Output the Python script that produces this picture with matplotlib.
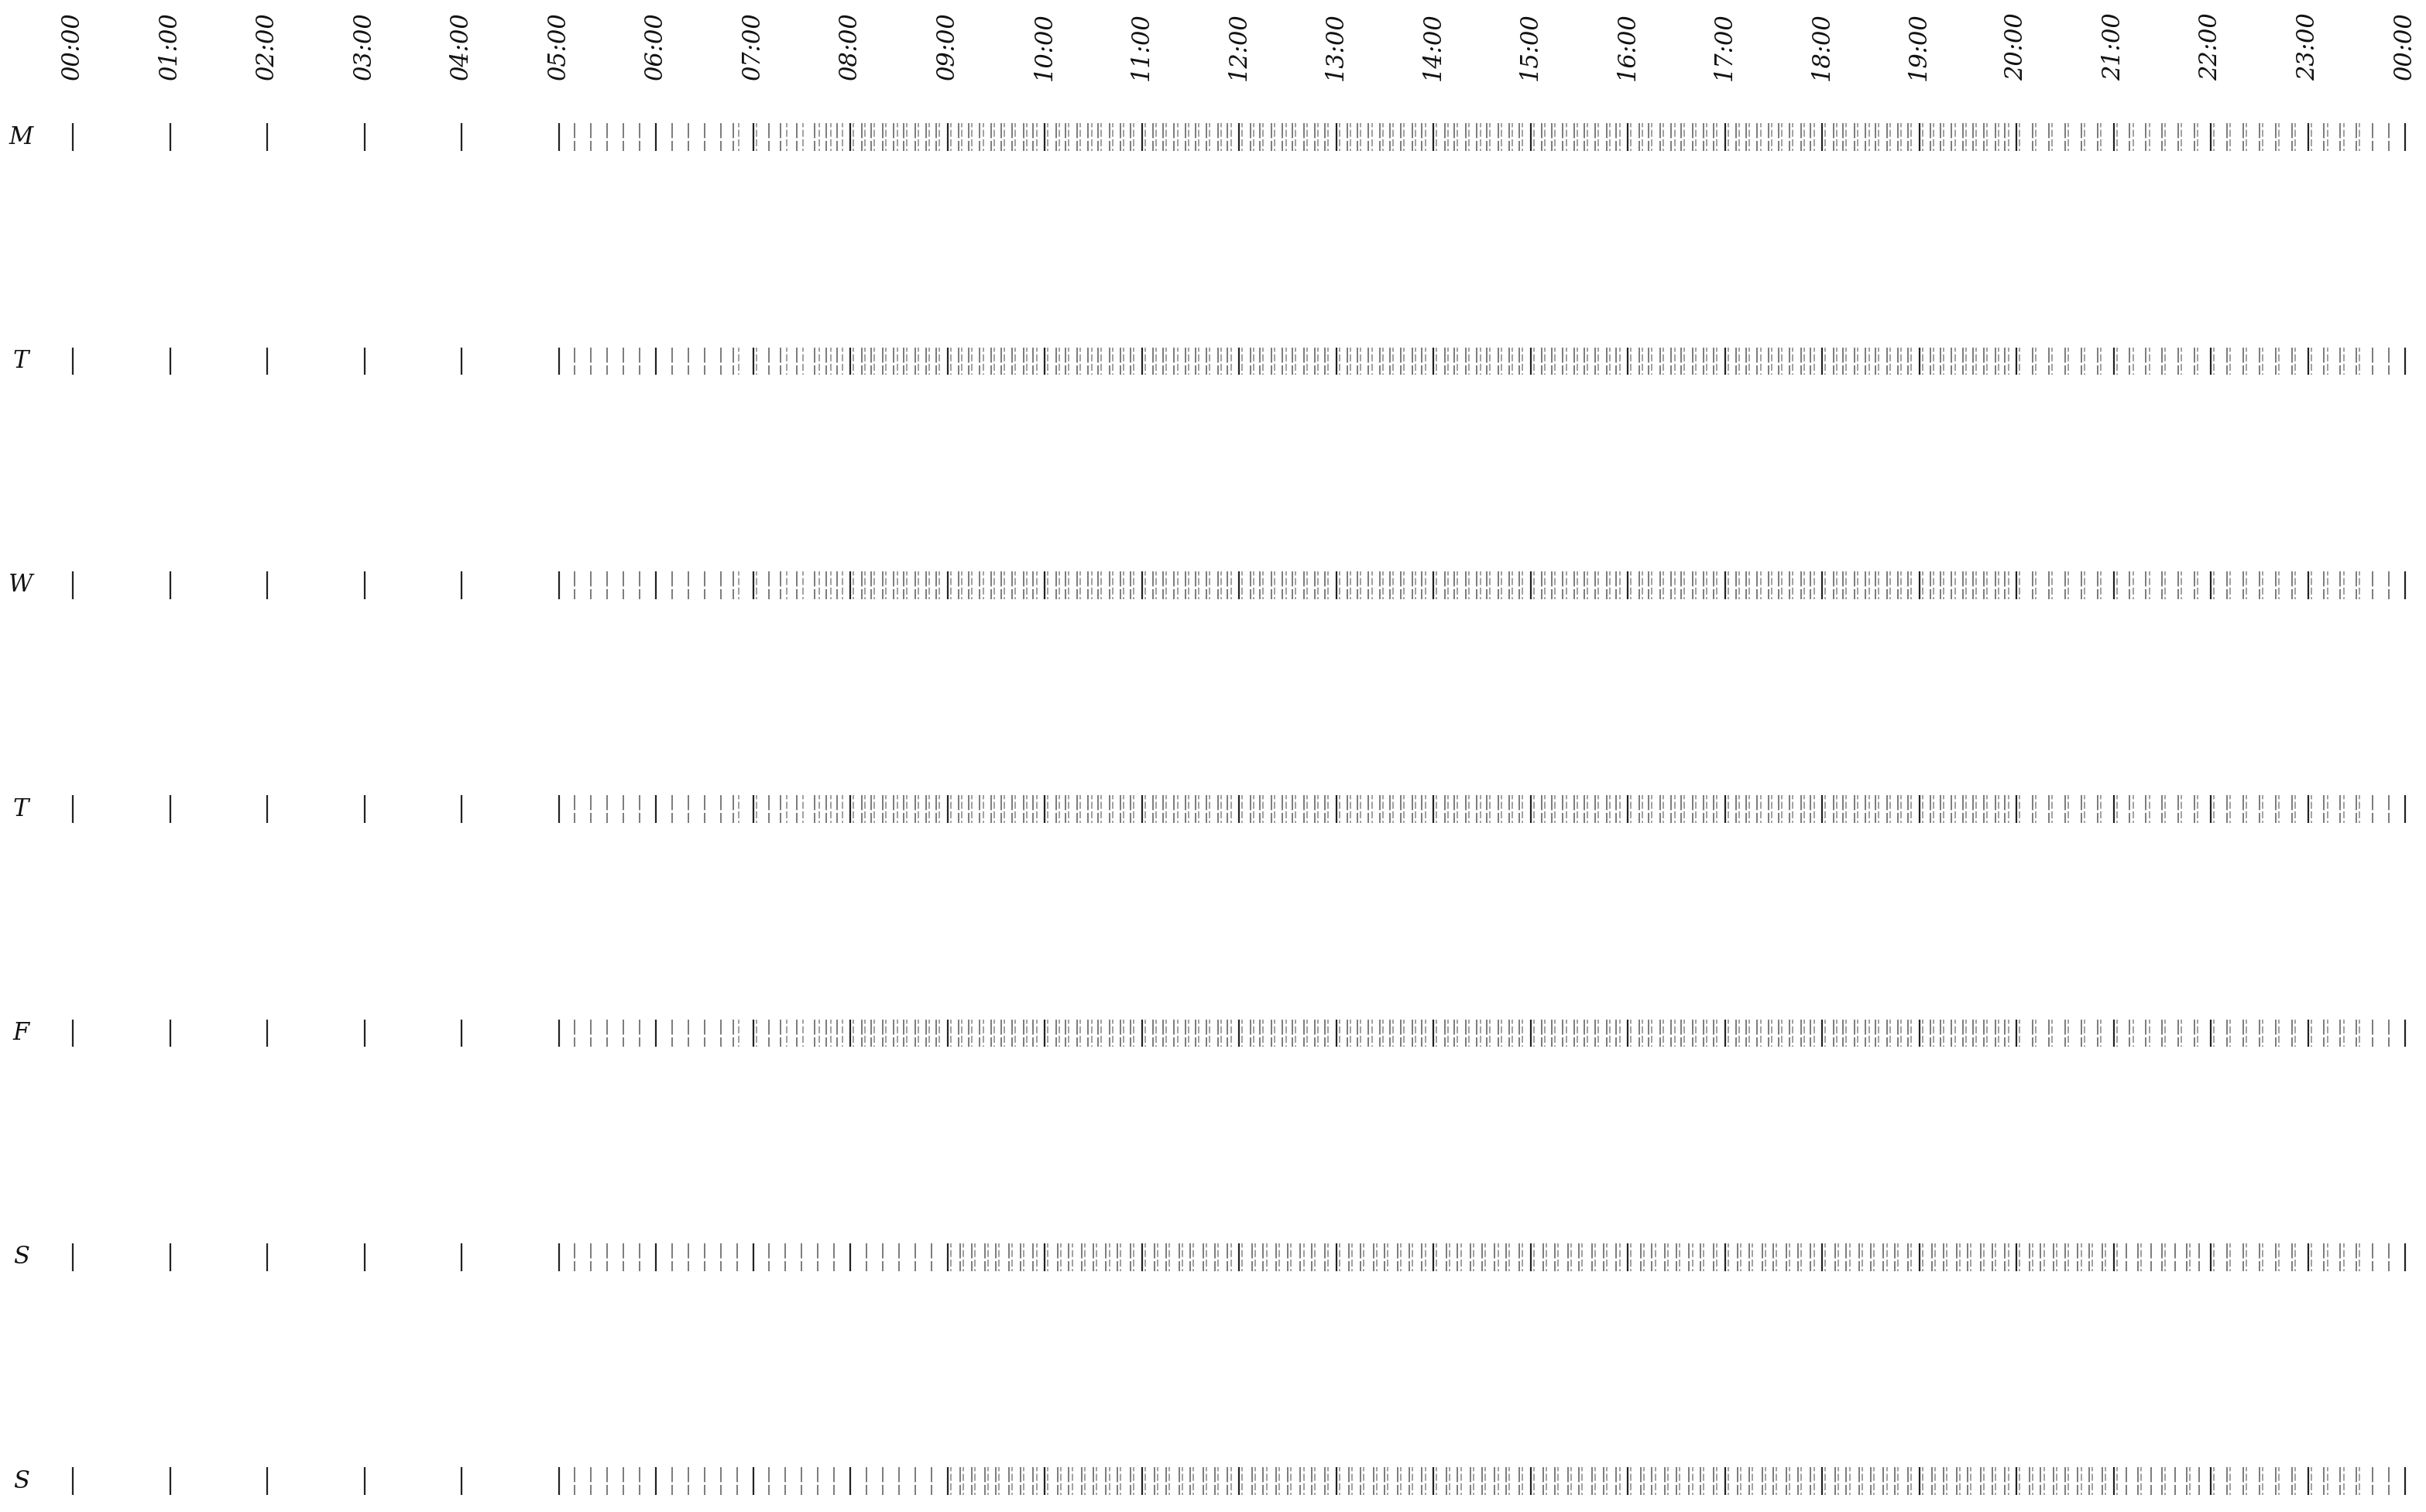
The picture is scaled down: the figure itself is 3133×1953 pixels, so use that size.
import matplotlib.pyplot as plt
from matplotlib import transforms

days = ['M', 'T', 'W', 'T', 'F', 'S', 'S']
hour_ticks = list(range(25))
hour_labels = ['00:00', '01:00', '02:00', '03:00', '04:00', '05:00', '06:00', '07:00',
               '08:00', '09:00', '10:00', '11:00', '12:00', '13:00', '14:00', '15:00',
               '16:00', '17:00', '18:00', '19:00', '20:00', '21:00', '22:00', '23:00', '00:00']

# timetables: (hours, minutes past the hour)
weekday_a = [
    ([5], [0, 10, 20, 30, 40, 50]),
    ([6], [0, 10, 20, 30, 40, 48]),
    ([7], [0, 10, 17, 27, 38, 45, 52]),
    (list(range(8, 20)), [0, 7, 13, 20, 27, 33, 40, 47, 53]),
    (list(range(20, 24)), [0, 10, 20, 30, 40, 50]),
]
weekday_b = [
    ([6], [51]),
    ([7], [2, 21, 31, 41, 48, 55]),
    (list(range(8, 20)), [2, 9, 15, 22, 29, 35, 42, 49, 55]),
    (list(range(20, 23)), [2, 12, 22, 32, 42, 52]),
    ([23], [2, 12, 22, 32]),
]
weekend_a = [
    (list(range(5, 9)), [0, 10, 20, 30, 40, 50]),
    (list(range(9, 22)), [0, 8, 15, 23, 30, 38, 45, 53]),
    (list(range(22, 24)), [0, 10, 20, 30, 40, 50]),
]
weekend_b = [
    (list(range(9, 21)), [2, 10, 17, 25, 32, 40, 47, 55]),
    ([21], [2, 17, 32, 47]),
    ([22], [2, 12, 22, 32, 42, 52]),
    ([23], [2, 12, 22, 32]),
]


def times(blocks):
    out = []
    for hours, mins in blocks:
        for h in hours:
            for m in mins:
                out.append(h * 60 + m)
    return out


W, H = 3133, 1953
fig = plt.figure(figsize=(W / 100, H / 100), dpi=100)
ax = fig.add_axes([94 / W, 1 - 1941 / H, 3012 / W, 1794 / H])
ax.set_xlim(0, 1440)
ax.set_ylim(6.1, -0.1)
ax.axis('off')

half = 0.062
font = dict(family='DejaVu Serif', style='italic', fontsize=22, color='#111111')

for r, d in enumerate(days):
    y = r + 0.004
    if r < 5:
        a, b = times(weekday_a), times(weekday_b)
    else:
        a, b = times(weekend_a), times(weekend_b)
    ax.vlines(a, y - half, y + half, colors='#5a5a5a', alpha=0.8,
              linewidth=1.4, linestyles=(0, (10, 1.8)), clip_on=False)
    ax.vlines(b, y - half, y + half, colors='#777777', alpha=0.75,
              linewidth=1.3, linestyles=(2, (5, 1.8)), clip_on=False)
    ax.vlines([h * 60 for h in hour_ticks], y - half, y + half, colors='#222222',
              linewidth=1.6, clip_on=False)
    ax.text(-32, y, d, ha='center', va='center', **font)

tr = transforms.blended_transform_factory(ax.transData, fig.transFigure)
for h, lab in zip(hour_ticks, hour_labels):
    ax.text(h * 60, 1 - 104 / H, lab, rotation=90, ha='center', va='bottom',
            transform=tr, **font)

fig.savefig('out.png', dpi=100, facecolor='white')
